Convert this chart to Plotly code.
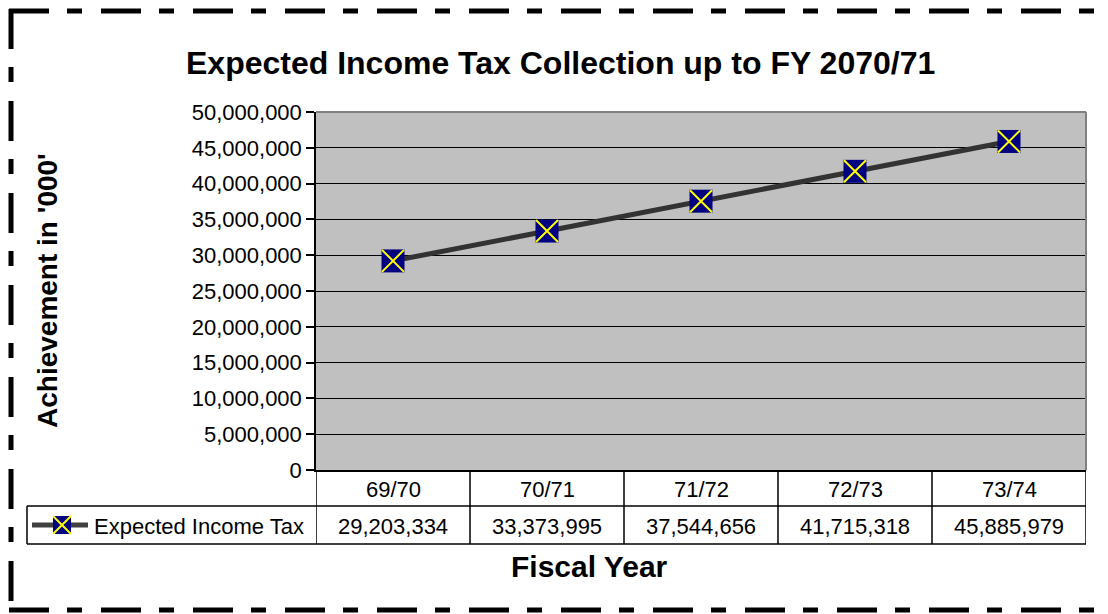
import plotly.graph_objects as go

categories = ["69/70", "70/71", "71/72", "72/73", "73/74"]
expected_tax = [29203334, 33373995, 37544656, 41715318, 45885979]
series_name = "Expected Income Tax"
y_ticks = list(range(0, 50000001, 5000000))

W, H = 1108, 614
L, R, T, B = 316, 22, 112, 144
PW, PH = W - L - R, H - T - B
FONT = "Arial, Liberation Sans, sans-serif"

def px(x):
    return (x - L) / PW

def py(y):
    return (H - B - y) / PH

fig = go.Figure()
fig.add_trace(go.Scatter(x=categories, y=expected_tax, mode="lines",
                         line=dict(color="#333333", width=5), showlegend=False))
fig.add_trace(go.Scatter(x=categories, y=expected_tax, mode="markers",
                         marker=dict(symbol="square", size=23, color="#000080",
                                     line=dict(width=0)), showlegend=False))
fig.add_trace(go.Scatter(x=categories, y=expected_tax, mode="markers",
                         marker=dict(symbol="x-thin", size=22,
                                     line=dict(color="#FFFF00", width=2)),
                         showlegend=False))

shapes = []
# plot border (gray top/right)
shapes.append(dict(type="line", xref="paper", yref="paper", x0=0, x1=1, y0=1, y1=1,
                   line=dict(color="#808080", width=2)))
shapes.append(dict(type="line", xref="paper", yref="paper", x0=1, x1=1, y0=0, y1=1,
                   line=dict(color="#808080", width=2)))
# data table
shapes.append(dict(type="line", xref="paper", yref="paper", x0=px(27), x1=1,
                   y0=py(506), y1=py(506), line=dict(color="black", width=1.5)))
shapes.append(dict(type="line", xref="paper", yref="paper", x0=px(27), x1=1,
                   y0=py(544), y1=py(544), line=dict(color="black", width=1.5)))
shapes.append(dict(type="line", xref="paper", yref="paper", x0=px(27), x1=px(27),
                   y0=py(506), y1=py(544), line=dict(color="black", width=1.5)))
for i in range(len(categories) + 1):
    shapes.append(dict(type="line", xref="x", yref="paper", x0=i - 0.5, x1=i - 0.5,
                       y0=0, y1=py(544), line=dict(color="black", width=1.5)))
# legend key
shapes.append(dict(type="line", xref="paper", yref="paper", x0=px(32), x1=px(88),
                   y0=py(525), y1=py(525), line=dict(color="#404040", width=5)))
shapes.append(dict(type="rect", xref="paper", yref="paper", x0=px(53), x1=px(71),
                   y0=py(516), y1=py(534), fillcolor="#000080", line=dict(width=0)))
shapes.append(dict(type="line", xref="paper", yref="paper", x0=px(53), x1=px(71),
                   y0=py(516), y1=py(534), line=dict(color="#FFFF00", width=2)))
shapes.append(dict(type="line", xref="paper", yref="paper", x0=px(53), x1=px(71),
                   y0=py(534), y1=py(516), line=dict(color="#FFFF00", width=2)))
# dashed outer border
dash = "40px,18px,15px,19px"
shapes.append(dict(type="line", xref="paper", yref="paper", x0=px(9), x1=px(1108),
                   y0=py(11), y1=py(11), line=dict(color="black", width=5, dash=dash)))
shapes.append(dict(type="line", xref="paper", yref="paper", x0=px(9), x1=px(1108),
                   y0=py(610), y1=py(610), line=dict(color="black", width=5, dash=dash)))
shapes.append(dict(type="line", xref="paper", yref="paper", x0=px(11), x1=px(11),
                   y0=py(9), y1=py(614), line=dict(color="black", width=5, dash=dash)))

def ann(x, y, text, size, xref="paper", xanchor="center", **kw):
    d = dict(x=x, xref=xref, y=py(y), yref="paper", text=text, showarrow=False,
             xanchor=xanchor, yanchor="middle",
             font=dict(family=FONT, size=size, color="black"))
    d.update(kw)
    return d

annotations = []
for c, v in zip(categories, expected_tax):
    annotations.append(ann(c, 489, c, 22, xref="x"))
    annotations.append(ann(c, 526, f"{v:,}", 22, xref="x"))
annotations.append(ann(px(92), 526, series_name, 22, xanchor="left"))
annotations.append(ann(px(560), 63, "<b>Expected Income Tax Collection up to FY 2070/71</b>", 32))
annotations.append(ann(px(47), 291, "<b>Achievement in '000'</b>", 28, textangle=-90))
annotations.append(ann(px(589), 566, "<b>Fiscal Year</b>", 30))

fig.update_layout(
    width=W, height=H,
    margin=dict(l=L, r=R, t=T, b=B, pad=0),
    paper_bgcolor="white", plot_bgcolor="#C0C0C0",
    showlegend=False,
    shapes=shapes, annotations=annotations,
    xaxis=dict(type="category", range=[-0.5, len(categories) - 0.5],
               showticklabels=False, showgrid=False, zeroline=False,
               showline=True, linecolor="black", linewidth=1.5, ticks=""),
    yaxis=dict(range=[0, 50000000], tickvals=y_ticks, tickformat=",",
               showgrid=True, gridcolor="black", gridwidth=1, zeroline=False,
               showline=True, linecolor="black", linewidth=1.5,
               ticks="outside", ticklen=8, tickcolor="black", tickwidth=1.5,
               tickfont=dict(family=FONT, size=22, color="black")),
)
fig.write_html("out.html")
